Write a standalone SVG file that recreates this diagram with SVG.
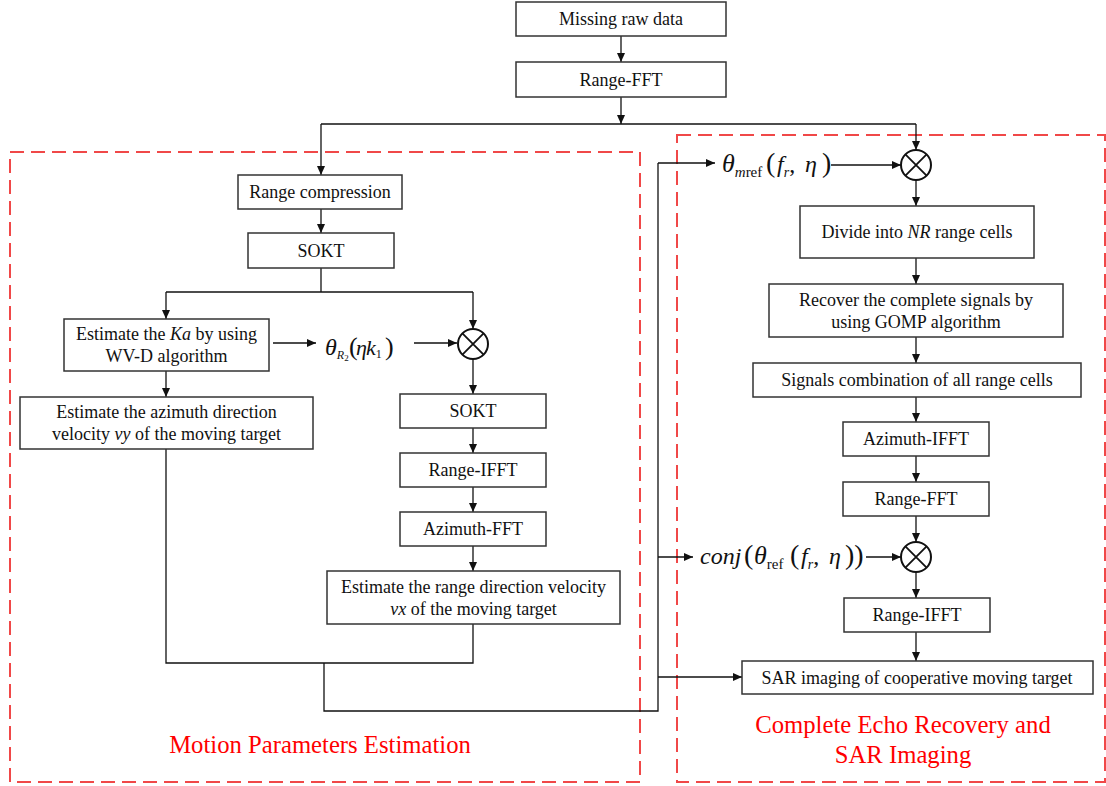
<svg xmlns="http://www.w3.org/2000/svg" width="1106" height="786" viewBox="0 0 1106 786">
<style>
.box{fill:#fff;stroke:#333;stroke-width:1.5}
.t{font-family:"Liberation Serif","Times New Roman",serif;font-size:18px;fill:#111;text-anchor:middle}
.m{font-family:"Liberation Serif","Times New Roman",serif;fill:#111}
.i{font-style:italic}
.ln{fill:none;stroke:#111;stroke-width:1.3}
.ar{fill:none;stroke:#111;stroke-width:1.3;marker-end:url(#ah)}
.dash{fill:none;stroke:#f04848;stroke-width:2;stroke-dasharray:14 7}
.red{font-family:"Liberation Serif","Times New Roman",serif;font-size:24.7px;fill:#f00;text-anchor:middle}
.mul circle{fill:#fff;stroke:#111;stroke-width:2}
.mul path{stroke:#111;stroke-width:1.8}
</style>
<defs>
<marker id="ah" markerUnits="userSpaceOnUse" viewBox="0 0 9 8" markerWidth="9" markerHeight="8" refX="9" refY="4" orient="auto"><path d="M0,0 L9,4 L0,8 z" fill="#111"/></marker>
</defs>
<rect x="0" y="0" width="1106" height="786" fill="#fff"/>

<g id="regions">
<rect class="dash" x="10" y="152" width="630" height="630"/>
<rect class="dash" x="677" y="135" width="428" height="647"/>
<text class="red" x="320" y="753">Motion Parameters Estimation</text>
<text class="red" x="903" y="733">Complete Echo Recovery and</text>
<text class="red" x="903" y="763">SAR Imaging</text>
</g>

<g id="connectors">
<line class="ar" x1="621" y1="36" x2="621" y2="62"/>
<line class="ar" x1="621" y1="97" x2="621" y2="124"/>
<polyline class="ln" points="321,124 916,124"/>
<line class="ar" x1="321" y1="124" x2="321" y2="175"/>
<line class="ar" x1="916" y1="124" x2="916" y2="150"/>
<line class="ar" x1="321" y1="209" x2="321" y2="233"/>
<polyline class="ln" points="321,268 321,292"/>
<polyline class="ln" points="166,292 473,292"/>
<line class="ar" x1="166" y1="292" x2="166" y2="319"/>
<line class="ar" x1="473" y1="292" x2="473" y2="329"/>
<line class="ar" x1="273" y1="343" x2="316" y2="343"/>
<line class="ar" x1="414" y1="343" x2="457" y2="343"/>
<line class="ar" x1="473" y1="359" x2="473" y2="394"/>
<line class="ar" x1="166" y1="371" x2="166" y2="397"/>
<line class="ar" x1="473" y1="428" x2="473" y2="453"/>
<line class="ar" x1="473" y1="487" x2="473" y2="512"/>
<line class="ar" x1="473" y1="546" x2="473" y2="571"/>
<polyline class="ln" points="166,449 166,663 473,663 473,624"/>
<polyline class="ln" points="324,663 324,711 658,711 658,163"/>
<line class="ar" x1="658" y1="163" x2="715" y2="163"/>
<line class="ar" x1="658" y1="557" x2="693" y2="557"/>
<line class="ar" x1="658" y1="677" x2="742" y2="677"/>
<line class="ar" x1="831" y1="165" x2="901" y2="165"/>
<line class="ar" x1="866" y1="557" x2="901" y2="557"/>
<line class="ar" x1="916" y1="180" x2="916" y2="206"/>
<line class="ar" x1="916" y1="258" x2="916" y2="284"/>
<line class="ar" x1="916" y1="337" x2="916" y2="363"/>
<line class="ar" x1="916" y1="397" x2="916" y2="422"/>
<line class="ar" x1="916" y1="456" x2="916" y2="482"/>
<line class="ar" x1="916" y1="516" x2="916" y2="542"/>
<line class="ar" x1="916" y1="572" x2="916" y2="598"/>
<line class="ar" x1="916" y1="632" x2="916" y2="661"/>
</g>

<g id="n_missing"><rect class="box" x="516" y="2" width="210" height="34"/><text class="t" x="621" y="25">Missing raw data</text></g>
<g id="n_rangefft1"><rect class="box" x="516" y="62" width="210" height="35"/><text class="t" x="621" y="86">Range-FFT</text></g>
<g id="n_rangecomp"><rect class="box" x="238" y="175" width="164" height="34"/><text class="t" x="320" y="198">Range compression</text></g>
<g id="n_sokt1"><rect class="box" x="248" y="233" width="146" height="35"/><text class="t" x="321" y="257">SOKT</text></g>
<g id="n_ka"><rect class="box" x="64" y="319" width="205" height="52"/><text class="t" x="166.5" y="340">Estimate the <tspan class="i">Ka</tspan> by using</text><text class="t" x="166.5" y="362">WV-D algorithm</text></g>
<g id="n_theta_r2"><text class="m" y="355"><tspan x="325" class="i" font-size="24">θ</tspan><tspan class="i" font-size="12" dy="4">R</tspan><tspan font-size="9" dy="2">2</tspan><tspan x="349" dy="-6" font-size="26">(</tspan><tspan x="356" class="i" font-size="22">η</tspan><tspan x="366" class="i" font-size="22">k</tspan><tspan font-size="12" dy="3">1</tspan><tspan x="385" dy="-3" font-size="26">)</tspan></text></g>
<g id="n_mul1" class="mul"><circle cx="473" cy="344" r="15"/><path d="M462.4,333.4 L483.6,354.6 M483.6,333.4 L462.4,354.6"/></g>
<g id="n_vy"><rect class="box" x="20" y="397" width="293" height="52"/><text class="t" x="166.5" y="418">Estimate the azimuth direction</text><text class="t" x="166.5" y="440">velocity <tspan class="i">vy</tspan> of the moving target</text></g>
<g id="n_sokt2"><rect class="box" x="400" y="394" width="146" height="34"/><text class="t" x="473" y="417">SOKT</text></g>
<g id="n_rangeifft1"><rect class="box" x="400" y="453" width="146" height="34"/><text class="t" x="473" y="476">Range-IFFT</text></g>
<g id="n_azfft"><rect class="box" x="400" y="512" width="146" height="34"/><text class="t" x="473" y="535">Azimuth-FFT</text></g>
<g id="n_vx"><rect class="box" x="327" y="571" width="293" height="53"/><text class="t" x="473.5" y="593">Estimate the range direction velocity</text><text class="t" x="473.5" y="615"><tspan class="i">vx</tspan> of the moving target</text></g>

<g id="n_theta_mref"><text class="m" y="172"><tspan x="722" class="i" font-size="26">θ</tspan><tspan class="i" font-size="15" dy="5">m</tspan><tspan font-size="15">ref</tspan><tspan x="766" dy="-5" font-size="28">(</tspan><tspan x="777" class="i" font-size="24">f</tspan><tspan class="i" font-size="14" dy="5">r</tspan><tspan dy="-5" font-size="24">,</tspan><tspan x="805" class="i" font-size="24">η</tspan><tspan x="822" font-size="28">)</tspan></text></g>
<g id="n_mul2" class="mul"><circle cx="916" cy="165" r="15"/><path d="M905.4,154.4 L926.6,175.6 M926.6,154.4 L905.4,175.6"/></g>
<g id="n_divide"><rect class="box" x="800" y="206" width="234" height="52"/><text class="t" x="917" y="238">Divide into <tspan class="i">NR</tspan> range cells</text></g>
<g id="n_recover"><rect class="box" x="769" y="284" width="294" height="53"/><text class="t" x="916" y="306">Recover the complete signals by</text><text class="t" x="916" y="328">using GOMP algorithm</text></g>
<g id="n_combine"><rect class="box" x="753" y="363" width="328" height="34"/><text class="t" x="917" y="386">Signals combination of all range cells</text></g>
<g id="n_azifft"><rect class="box" x="843" y="422" width="146" height="34"/><text class="t" x="916" y="445">Azimuth-IFFT</text></g>
<g id="n_rangefft2"><rect class="box" x="843" y="482" width="146" height="34"/><text class="t" x="916" y="505">Range-FFT</text></g>
<g id="n_conj"><text class="m" y="564"><tspan x="700" class="i" font-size="24">conj</tspan><tspan x="744" font-size="28">(</tspan><tspan x="754" class="i" font-size="26">θ</tspan><tspan font-size="15" dy="5">ref</tspan><tspan x="790" dy="-5" font-size="28">(</tspan><tspan x="801" class="i" font-size="24">f</tspan><tspan class="i" font-size="14" dy="5">r</tspan><tspan dy="-5" font-size="24">,</tspan><tspan x="829" class="i" font-size="24">η</tspan><tspan x="845" font-size="28">))</tspan></text></g>
<g id="n_mul3" class="mul"><circle cx="916" cy="557" r="15"/><path d="M905.4,546.4 L926.6,567.6 M926.6,546.4 L905.4,567.6"/></g>
<g id="n_rangeifft2"><rect class="box" x="844" y="598" width="146" height="34"/><text class="t" x="917" y="621">Range-IFFT</text></g>
<g id="n_sar"><rect class="box" x="742" y="661" width="351" height="33"/><text class="t" x="917" y="684">SAR imaging of cooperative moving target</text></g>
</svg>
